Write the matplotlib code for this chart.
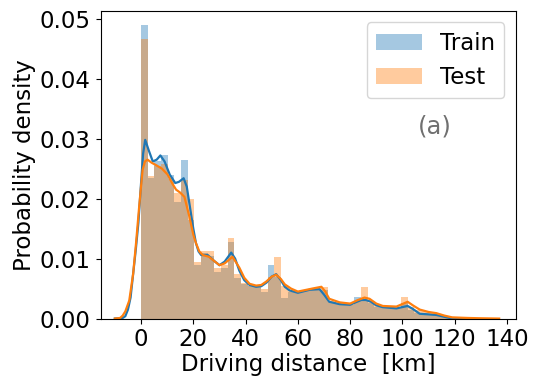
import numpy as np
import matplotlib
matplotlib.use("Agg")
import matplotlib.pyplot as plt

# histogram densities per 2.55 km bin, starting at 0 km
bin_width = 2.55
train_density = [0.0489, 0.0235, 0.0262, 0.0272, 0.0240, 0.0195, 0.0265, 0.0165,
                 0.0089, 0.0110, 0.0105, 0.0077, 0.0085, 0.0127, 0.0067, 0.0058,
                 0.0054, 0.0052, 0.0045, 0.0089, 0.0070, 0.0034, 0.0045, 0.0045,
                 0.0048, 0.0050, 0.0050, 0.0047, 0.0027, 0.0025, 0.0024, 0.0023,
                 0.0036, 0.0030, 0.0026, 0.0020, 0.0019, 0.0018, 0.0018, 0.0026,
                 0.0015, 0.0010, 0.0008, 0.0006, 0.0005, 0.0003, 0.0001, 0.0001,
                 0.00005, 0.0, 0.0, 0.0, 0.0]
test_density = [0.0467, 0.0237, 0.0255, 0.0257, 0.0232, 0.0210, 0.0231, 0.0200,
                0.0095, 0.0112, 0.0112, 0.0085, 0.0090, 0.0134, 0.0075, 0.0060,
                0.0055, 0.0054, 0.0050, 0.0070, 0.0103, 0.0054, 0.0048, 0.0045,
                0.0048, 0.0050, 0.0051, 0.0053, 0.0030, 0.0027, 0.0025, 0.0024,
                0.0030, 0.0052, 0.0030, 0.0022, 0.0020, 0.0019, 0.0020, 0.0036,
                0.0020, 0.0015, 0.0012, 0.0010, 0.0007, 0.0005, 0.0003, 0.0002,
                0.0002, 0.0001, 0.0001, 0.00005, 0.00005]

# kernel density estimates (km, density)
train_kde_x = [-10, -7, -6, -5, -4, -3, -2, -1, 0, 0.8, 1.6, 3, 4.5, 6, 7.4, 9,
               11, 13.1, 14.5, 16.3, 17.5, 18.5, 20, 21, 22, 23, 25.5, 28, 30,
               32, 34.5, 36, 37.6, 39.5, 41.5, 44, 46, 48, 50, 51.7, 53.5, 55,
               56.8, 60, 64.5, 68.3, 70, 72, 76, 80, 82, 84.3, 86, 88, 90, 92.5,
               97.7, 102, 104, 106.6, 110, 113, 116, 118, 122, 125]
train_kde_y = [0, 0.0001, 0.0004, 0.0015, 0.0035, 0.0075, 0.0115, 0.0160, 0.0225,
               0.0275, 0.0298, 0.0280, 0.0262, 0.0265, 0.0272, 0.0262, 0.0240,
               0.0226, 0.0228, 0.0234, 0.0220, 0.0192, 0.0150, 0.0126, 0.0112,
               0.0106, 0.0106, 0.0096, 0.0089, 0.0095, 0.0110, 0.0100, 0.0080,
               0.0064, 0.0056, 0.0053, 0.0054, 0.0060, 0.0070, 0.0074, 0.0064,
               0.0053, 0.0047, 0.0043, 0.0048, 0.0049, 0.0040, 0.0028, 0.0024,
               0.0023, 0.0027, 0.0031, 0.0031, 0.0028, 0.0022, 0.0019, 0.0017,
               0.0021, 0.0016, 0.0008, 0.0007, 0.0006, 0.0003, 0.0001, 0.00003, 0]
test_kde_x = [-10, -8, -7, -6, -4.5, -3, -1.9, -0.7, 0.6, 1.5, 2.5, 4, 5.7, 8,
              10.2, 12, 13.4, 15, 16.6, 18.5, 20, 21, 22.3, 23.6, 26, 28, 30, 32,
              35, 37.6, 39.5, 41.5, 44, 46, 48, 50, 51.7, 53.5, 55, 57.4, 60,
              65.5, 69, 70.5, 72, 76, 80, 83, 85.5, 87.4, 90, 92.5, 97.7, 102,
              104, 106.6, 110, 113, 116, 119, 125, 130, 137]
test_kde_y = [0, 0.0001, 0.0005, 0.0012, 0.0030, 0.0075, 0.0126, 0.0187, 0.0248,
              0.0262, 0.0265, 0.0260, 0.0256, 0.0250, 0.0240, 0.0225, 0.0215,
              0.0210, 0.0203, 0.0170, 0.0140, 0.0126, 0.0112, 0.0106, 0.0103,
              0.0096, 0.0089, 0.0092, 0.0103, 0.0085, 0.0068, 0.0058, 0.0055,
              0.0056, 0.0062, 0.0070, 0.0073, 0.0066, 0.0057, 0.0050, 0.0045,
              0.0050, 0.0053, 0.0045, 0.0033, 0.0027, 0.0025, 0.0031, 0.0035,
              0.0033, 0.0025, 0.0021, 0.0020, 0.0028, 0.0022, 0.0015, 0.0011,
              0.0009, 0.0005, 0.0002, 0.0001, 0.00005, 0]

blue = '#1f77b4'
orange = '#ff7f0e'

fig = plt.figure(figsize=(5.36, 3.77), dpi=100)
ax = fig.add_axes([0.1875, 0.155, 0.7745, 0.816])

edges_train = np.arange(len(train_density)) * bin_width
edges_test = np.arange(len(test_density)) * bin_width
ax.bar(edges_train, train_density, width=bin_width, align='edge',
       color=blue, alpha=0.4, linewidth=0, label='Train')
ax.bar(edges_test, test_density, width=bin_width, align='edge',
       color=orange, alpha=0.4, linewidth=0, label='Test')
ax.plot(train_kde_x, train_kde_y, color=blue, lw=1.6)
ax.plot(test_kde_x, test_kde_y, color=orange, lw=1.6)

ax.set_xlim(-15.5, 143.3)
ax.set_ylim(0, 0.0513)
ax.set_xticks(np.arange(0, 141, 20))
ax.set_yticks([0, 0.01, 0.02, 0.03, 0.04, 0.05])
ax.set_yticklabels(['0.00', '0.01', '0.02', '0.03', '0.04', '0.05'])
ax.tick_params(labelsize=16.5)
ax.set_xlabel('Driving distance  [km]', fontsize=16.5, labelpad=1)
ax.set_ylabel('Probability density', fontsize=16.5, labelpad=3)

ax.legend(loc='upper right', fontsize=16.5)
fig.text(0.812, 0.664, '(a)', fontsize=17.5, color='#707070',
         ha='center', va='center')

fig.savefig('out.png', dpi=100)
